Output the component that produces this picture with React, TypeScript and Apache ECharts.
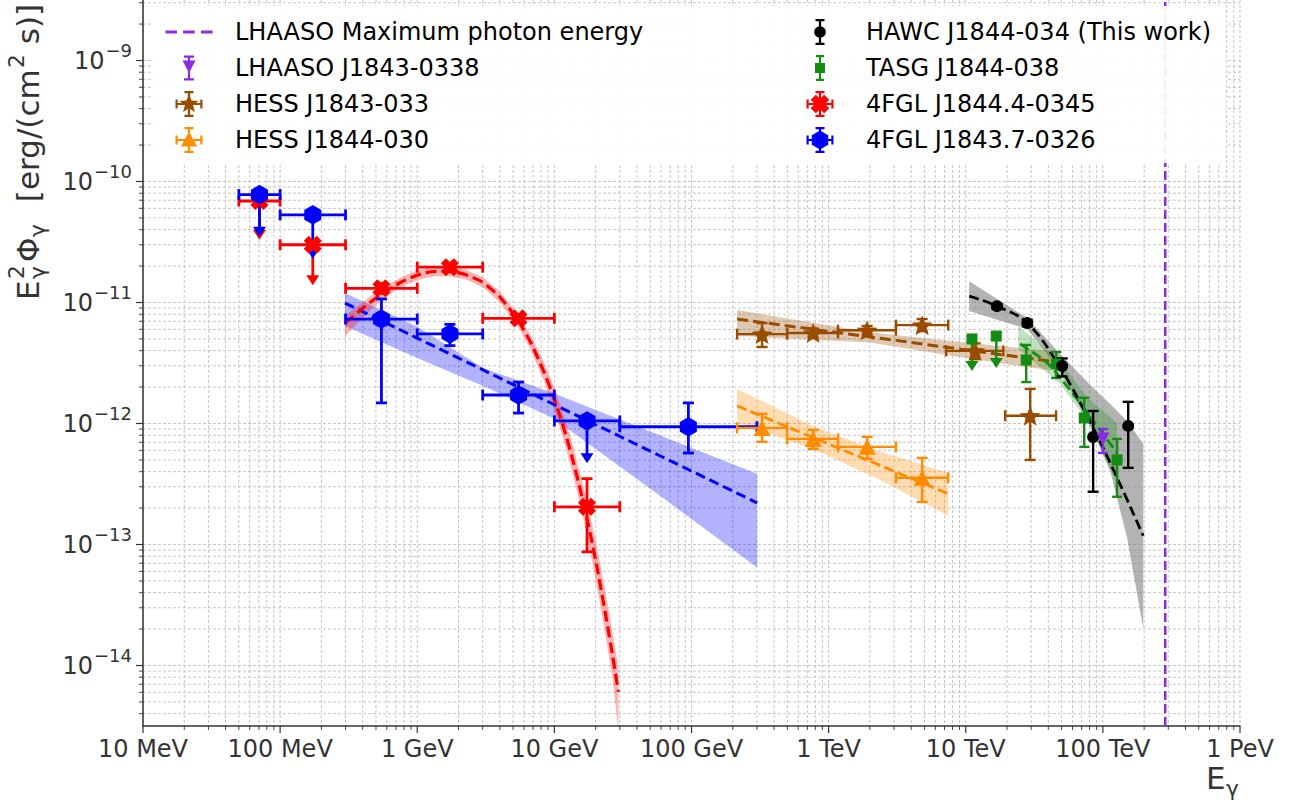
import React, { useEffect, useRef } from 'react';
import * as echarts from 'echarts';

const FONT = 'DejaVu Sans';
const L = (v: number) => Math.log10(v);

// ---------------- axes ----------------
const xMin = -2, xMax = 6, yMin = -14.5, yMax = -8.5;
const xTickEnergies = [0.01, 0.1, 1, 10, 100, 1e3, 1e4, 1e5, 1e6]; // GeV
const xTickLabels = ['10 MeV', '100 MeV', '1 GeV', '10 GeV', '100 GeV', '1 TeV', '10 TeV', '100 TeV', '1 PeV'];
const yTickExponents = [-14, -13, -12, -11, -10, -9];

// ---------------- data (E in GeV, E^2 dN/dE in erg cm^-2 s^-1) ----------------
// 4FGL J1843.7-0326 (blue)
const fglBinLo = [0.05, 0.1, 0.3, 1, 3, 10, 30];
const fglBinHi = [0.1, 0.3, 1, 3, 10, 30, 300];
const blueE = [0.0707, 0.173, 0.548, 1.73, 5.48, 17.3, 94.9];
const blueF = [7.8e-11, 5.3e-11, 7.3e-12, 5.5e-12, 1.72e-12, 1.05e-12, 9.4e-13];
const blueFHi = [null, null, 1.07e-11, 6.6e-12, 2.2e-12, null, 1.48e-12];
const blueFLo = [3.5e-11, 2.3e-11, 1.48e-12, 4.4e-12, 1.22e-12, 4.7e-13, 5.7e-13];
const blueUL = [true, true, false, false, false, true, false];
const blueModelE = [0.297, 1, 3.02, 9.77, 63.1, 301];
const blueModelF = [9.89e-12, 5.08e-12, 2.77e-12, 1.45e-12, 5.21e-13, 2.21e-13];
const blueBandHi = [1.197e-11, 6.31e-12, 2.88e-12, 1.786e-12, 7.74e-13, 3.84e-13];
const blueBandLo = [6.38e-12, 3.48e-12, 2.04e-12, 1.11e-12, 2.39e-13, 6.44e-14];

// 4FGL J1844.4-0345 (red)
const redE = [0.0707, 0.173, 0.548, 1.73, 5.48, 17.3];
const redF = [6.9e-11, 3.0e-11, 1.31e-11, 1.96e-11, 7.4e-12, 2.05e-13];
const redFHi = [null, null, 1.44e-11, 2.08e-11, 7.9e-12, 3.5e-13];
const redFLo = [3.3e-11, 1.39e-11, 1.19e-11, 1.85e-11, 6.9e-12, 8.7e-14];
const redUL = [true, true, false, false, false, false];
// model curve read in decades: log10(E/GeV), log10(flux)
const redModelLogE = [-0.527, -0.4, -0.264, -0.13, 0, 0.12, 0.232, 0.35, 0.473, 0.6, 0.735, 0.83, 0.918, 0.98, 1.042, 1.09, 1.138, 1.19, 1.236, 1.27, 1.309, 1.345, 1.382, 1.425, 1.467];
const redModelLogF = [-11.17, -11.049, -10.933, -10.839, -10.774, -10.744, -10.744, -10.768, -10.83, -10.951, -11.147, -11.337, -11.557, -11.737, -11.942, -12.12, -12.317, -12.551, -12.776, -12.956, -13.178, -13.398, -13.635, -13.923, -14.217];
const redBandLogHi = [-11.11, -11.0, -10.883, -10.799, -10.734, -10.704, -10.704, -10.728, -10.79, -10.906, -11.097, -11.277, -11.482, -11.647, -11.842, -12.01, -12.197, -12.421, -12.636, -12.806, -13.018, -13.228, -13.455, -13.733, -14.017];
const redBandLogLo = [-11.28, -11.129, -10.983, -10.879, -10.814, -10.784, -10.784, -10.808, -10.87, -10.996, -11.197, -11.397, -11.632, -11.827, -12.042, -12.23, -12.437, -12.681, -12.916, -13.106, -13.338, -13.568, -13.815, -14.113, -14.55];

// HESS J1843-033 (brown)
const hess33E = [327, 771, 1910, 4810, 11700, 29500];
const hess33ELo = [215, 498, 1170, 3100, 7200, 19400];
const hess33EHi = [498, 1170, 3100, 7450, 18800, 45600];
const hess33F = [5.48e-12, 5.6e-12, 5.9e-12, 6.5e-12, 3.98e-12, 1.16e-12];
const hess33FHi = [6.76e-12, 6.1e-12, 6.4e-12, 7.3e-12, 4.6e-12, 1.93e-12];
const hess33FLo = [4.29e-12, 5.15e-12, 5.45e-12, 5.8e-12, 3.4e-12, 5.0e-13];
const hess33ModelE = [215, 1995, 10000, 41300];
const hess33ModelF = [7.29e-12, 5.2e-12, 4.06e-12, 3.28e-12];
const hess33BandHi = [8.65e-12, 5.69e-12, 4.68e-12, 3.98e-12];
const hess33BandLo = [5.28e-12, 4.68e-12, 3.47e-12, 2.75e-12];

// HESS J1844-030 (orange)
const hess30E = [327, 771, 1910, 4810];
const hess30ELo = [215, 498, 1170, 3100];
const hess30EHi = [498, 1170, 3100, 7450];
const hess30F = [9.2e-13, 7.46e-13, 6.41e-13, 3.56e-13];
const hess30FHi = [1.2e-12, 8.85e-13, 7.76e-13, 5.2e-13];
const hess30FLo = [7.05e-13, 6.17e-13, 5.1e-13, 2.25e-13];
const hess30ModelE = [215, 800, 2500, 7450];
const hess30ModelF = [1.4e-12, 7.52e-13, 4.4e-13, 2.62e-13];
const hess30BandHi = [1.93e-12, 9.33e-13, 5.75e-13, 3.91e-13];
const hess30BandLo = [1.02e-12, 6.03e-13, 3.31e-13, 1.73e-13];

// TASG J1844-038 (green)
const tasgE = [11100, 16700, 27600, 45600, 73100, 127000];
const tasgF = [5.0e-12, 5.28e-12, 3.35e-12, 3.1e-12, 1.11e-12, 5.0e-13];
const tasgFHi = [null, null, 4.46e-12, 3.9e-12, 1.63e-12, 7.46e-13];
const tasgFLo = [2.72e-12, 2.88e-12, 2.2e-12, 2.38e-12, 6.4e-13, 2.48e-13];
const tasgUL = [true, true, false, false, false, false];
const tasgModelE = [24900, 39300, 60700, 84900, 127000];
const tasgModelF = [4.54e-12, 3.16e-12, 1.75e-12, 1.05e-12, 5.71e-13];
const tasgBandE = [24100, 48900, 76900, 127000];
const tasgBandHi = [6.38e-12, 3.29e-12, 1.63e-12, 1.01e-12];
const tasgBandLo = [4.17e-12, 2.12e-12, 1.05e-12, 3.18e-13];

// HAWC J1844-034 (black)
const hawcE = [16900, 28100, 50500, 84900, 153000];
const hawcF = [9.33e-12, 6.76e-12, 2.99e-12, 7.74e-13, 9.55e-13];
const hawcFHi = [9.7e-12, 7.2e-12, 3.45e-12, 1.27e-12, 1.51e-12];
const hawcFLo = [8.9e-12, 6.35e-12, 2.45e-12, 2.73e-13, 4.3e-13];
const hawcModelE = [10600, 16900, 28100, 48900, 84900, 127000, 197000];
const hawcModelF = [1.13e-11, 9.33e-12, 6.76e-12, 2.88e-12, 9.2e-13, 3.56e-13, 1.18e-13];
const hawcBandE = [10600, 28100, 48900, 84900, 113000, 150000, 197000];
const hawcBandHi = [1.5e-11, 7.43e-12, 3.75e-12, 1.97e-12, 1.45e-12, 1.05e-12, 6.79e-13];
const hawcBandLo = [8.49e-12, 6.03e-12, 2.72e-12, 8.69e-13, 4.06e-13, 1.14e-13, 2.02e-14];

// LHAASO J1843-0338 (purple)
const lhaasoE = [1.0e5];
const lhaasoF = [7.46e-13];
const lhaasoFHi = [9.0e-13];
const lhaasoFLo = [5.71e-13];
const lhaasoMaxPhotonE = [2.85e5];

// ---------------- colours ----------------
const C_BLUE = '#0000ff';
const C_RED = '#ff0000';
const C_BROWN = '#994c00';
const C_ORANGE = '#ff8c00';
const C_GREEN = '#148c14';
const C_BLACK = '#000000';
const C_PURPLE = '#8a2be2';

// ---------------- shape helpers ----------------
const f2 = (n: number) => n.toFixed(2);
function rectP(x: number, y: number, w: number, h: number) {
  return `M${f2(x)} ${f2(y)}L${f2(x + w)} ${f2(y)}L${f2(x + w)} ${f2(y + h)}L${f2(x)} ${f2(y + h)}Z`;
}
function polyP(pts: number[][]) {
  return 'M' + pts.map((p) => f2(p[0]) + ' ' + f2(p[1])).join('L') + 'Z';
}
function regPts(cx: number, cy: number, r: number, n: number, start: number) {
  const out: number[][] = [];
  for (let k = 0; k < n; k++) {
    const a = ((start + (k * 360) / n) * Math.PI) / 180;
    out.push([cx + r * Math.cos(a), cy + r * Math.sin(a)]);
  }
  return out;
}
function starPts(cx: number, cy: number, R: number, r: number) {
  const out: number[][] = [];
  for (let k = 0; k < 10; k++) {
    const a = ((-90 + k * 36) * Math.PI) / 180;
    const rr = k % 2 === 0 ? R : r;
    out.push([cx + rr * Math.cos(a), cy + rr * Math.sin(a)]);
  }
  return out;
}
function xPts(cx: number, cy: number, len: number, a: number) {
  const base = [[-a, -len], [a, -len], [a, -a], [len, -a], [len, a], [a, a], [a, len], [-a, len], [-a, a], [-len, a], [-len, -a], [-a, -a]];
  const c = Math.SQRT1_2;
  return base.map(([x, y]) => [cx + (x - y) * c, cy + (x + y) * c]);
}

const hexSymbol = 'path://' + polyP(regPts(0, 0, 10, 6, -90));
const xSymbol = 'path://' + polyP(xPts(0, 0, 10, 3.9));
const starSymbol = 'path://' + polyP(starPts(0, 0, 10, 4.3));

// legend icons (82 x 30 box)
const CX = 41, CY = 15;
const corners = 'M0 0L0.01 0L0.01 0.01ZM82 30L81.99 30L81.99 29.99Z';
const yErrIcon = (h: number, cap: number, lw: number) =>
  rectP(CX - lw / 2, CY - h, lw, 2 * h) + rectP(CX - cap, CY - h, 2 * cap, lw) + rectP(CX - cap, CY + h - lw, 2 * cap, lw);
const xErrIcon = (w: number, cap: number, lw: number) =>
  rectP(CX - w, CY - lw / 2, 2 * w, lw) + rectP(CX - w, CY - cap, lw, 2 * cap) + rectP(CX + w - lw, CY - cap, lw, 2 * cap);
const iconDash = 'path://' + corners + rectP(17.5, 13.4, 11.5, 3.2) + rectP(35.2, 13.4, 11.5, 3.2) + rectP(53, 13.4, 11.5, 3.2);
const iconLhaaso = 'path://' + corners + yErrIcon(12.5, 5, 2.2) + polyP([[34.5, 7.5], [47.5, 7.5], [41, 20]]);
const iconHess33 = 'path://' + corners + yErrIcon(13, 4.5, 2.2) + xErrIcon(13.5, 4.5, 2.2) + polyP(starPts(CX, CY, 10, 4.3));
const iconHess30 = 'path://' + corners + yErrIcon(13, 4.5, 2.2) + xErrIcon(13.5, 4.5, 2.2) + polyP([[33, 21.5], [41, 6.5], [49, 21.5]]);
const iconHawc = 'path://' + corners + yErrIcon(13, 4.5, 2.2) + polyP(regPts(CX, CY, 5.8, 24, 0));
const iconTasg = 'path://' + corners + yErrIcon(13, 4, 2.2) + rectP(CX - 5, CY - 5, 10, 10);
const iconRed = 'path://' + corners + yErrIcon(13, 4.5, 2.2) + xErrIcon(13.5, 4.5, 2.2) + polyP(xPts(CX, CY, 9.5, 3.6));
const iconBlue = 'path://' + corners + yErrIcon(13, 4.5, 2.2) + xErrIcon(13.5, 4.5, 2.2) + polyP(regPts(CX, CY, 9.5, 6, -90));

// ---------------- series builders ----------------
function errData(E: number[], ELo: number[] | null, EHi: number[] | null, F: number[], FHi: (number | null)[], FLo: number[], UL: boolean[] | null) {
  return E.map((e, i) => [
    L(e), L(F[i]),
    ELo ? L(ELo[i]) : NaN, EHi ? L(EHi[i]) : NaN,
    L(FLo[i]), FHi[i] == null ? NaN : L(FHi[i] as number),
    UL && UL[i] ? 1 : 0,
  ]);
}

function errSeries(name: string, color: string, data: number[][], lw: number, cap: number) {
  return {
    type: 'custom', name, z: 3, silent: true, clip: false,
    data, encode: { x: 0, y: 1 },
    renderItem: (_p: any, api: any) => {
      const x = api.value(0), y = api.value(1);
      const xl = api.value(2), xh = api.value(3), yl = api.value(4), yh = api.value(5), ul = api.value(6);
      const c = api.coord([x, y]);
      const st = { stroke: color, lineWidth: lw, fill: null };
      const ln = (x1: number, y1: number, x2: number, y2: number) => ({ type: 'line', shape: { x1, y1, x2, y2 }, style: st });
      const ch: any[] = [];
      if (isFinite(xl)) {
        const a = api.coord([xl, y]), b = api.coord([xh, y]);
        ch.push(ln(a[0], c[1], b[0], c[1]));
        ch.push(ln(a[0], c[1] - cap, a[0], c[1] + cap));
        ch.push(ln(b[0], c[1] - cap, b[0], c[1] + cap));
      }
      if (ul) {
        const b = api.coord([x, yl]);
        const hh = 10, hw = 6.5;
        ch.push(ln(c[0], c[1], c[0], b[1] - hh + 1));
        ch.push({ type: 'polygon', shape: { points: [[b[0] - hw, b[1] - hh], [b[0] + hw, b[1] - hh], [b[0], b[1]]] }, style: { fill: color } });
      } else {
        const t = api.coord([x, yh]), b = api.coord([x, yl]);
        ch.push(ln(c[0], t[1], c[0], b[1]));
        ch.push(ln(c[0] - cap, t[1], c[0] + cap, t[1]));
        ch.push(ln(c[0] - cap, b[1], c[0] + cap, b[1]));
      }
      return { type: 'group', children: ch };
    },
  };
}

function markerSeries(name: string, color: string, E: number[], F: number[], symbol: string, size: any, rotate = 0) {
  return {
    type: 'scatter', name, z: 4, silent: true,
    data: E.map((e, i) => [L(e), L(F[i])]),
    symbol, symbolSize: size, symbolRotate: rotate,
    itemStyle: { color, opacity: 1 },
  };
}

function lineSeries(name: string, color: string, pts: number[][], width: number, dash: number[], smooth: any) {
  return {
    type: 'line', name, z: 2, silent: true, clip: true,
    data: pts,
    showSymbol: false, symbol: 'none', smooth,
    lineStyle: { color, width, type: dash },
    itemStyle: { color },
  };
}
const toPts = (E: number[], F: number[]) => E.map((e, i) => [L(e), L(F[i])]);

function bandSeries(name: string, fill: string, xs: number[], his: number[], los: number[]) {
  return {
    type: 'custom', name, z: 1, silent: true, clip: true,
    data: [[xs[0], his[0]]],
    renderItem: (_p: any, api: any) => {
      const pts: number[][] = [];
      for (let i = 0; i < xs.length; i++) pts.push(api.coord([xs[i], his[i]]));
      for (let i = xs.length - 1; i >= 0; i--) pts.push(api.coord([xs[i], los[i]]));
      return { type: 'polygon', shape: { points: pts }, style: { fill } };
    },
  };
}
const bandFromPhys = (name: string, fill: string, E: number[], Hi: number[], Lo: number[]) =>
  bandSeries(name, fill, E.map(L), Hi.map(L), Lo.map(L));

// grid / tick positions (log-decade subdivisions)
const xMajor = xTickEnergies.map(L);
const yMajor = yTickExponents.slice();
const xMinorPos: number[] = [];
for (let d = -2; d < 6; d++) for (let k = 2; k <= 9; k++) xMinorPos.push(d + L(k));
const yMinorPos: number[] = [];
for (let d = -15; d < -8; d++) for (let k = 2; k <= 9; k++) { const v = d + L(k); if (v > yMin && v < yMax) yMinorPos.push(v); }

const gridColor = '#c6c6c6';
function gridXSeries() {
  return {
    type: 'custom', name: 'gridX', z: 0, silent: true, clip: false,
    data: [...xMajor, ...xMinorPos].map((v) => [v, yMin, xMajor.includes(v) ? 1 : 0]),
    renderItem: (params: any, api: any) => {
      const p = api.coord([api.value(0), yMin]);
      const cs = params.coordSys;
      const major = api.value(2) === 1;
      const bottom = cs.y + cs.height;
      return {
        type: 'group', children: [
          { type: 'line', shape: { x1: p[0], y1: cs.y, x2: p[0], y2: bottom }, style: { stroke: gridColor, lineWidth: 1, lineDash: [3, 2] } },
          { type: 'line', shape: { x1: p[0], y1: bottom, x2: p[0], y2: bottom + (major ? 7 : 4) }, style: { stroke: '#333', lineWidth: major ? 1.2 : 0.9 } },
        ],
      };
    },
  };
}
function gridYSeries() {
  return {
    type: 'custom', name: 'gridY', z: 0, silent: true, clip: false,
    data: [...yMajor, ...yMinorPos].map((v) => [xMin, v, yMajor.includes(v) ? 1 : 0]),
    renderItem: (params: any, api: any) => {
      const p = api.coord([xMin, api.value(1)]);
      const cs = params.coordSys;
      const major = api.value(2) === 1;
      return {
        type: 'group', children: [
          { type: 'line', shape: { x1: cs.x, y1: p[1], x2: cs.x + cs.width, y2: p[1] }, style: { stroke: gridColor, lineWidth: 1, lineDash: [3, 2] } },
          { type: 'line', shape: { x1: cs.x, y1: p[1], x2: cs.x - (major ? 7 : 4), y2: p[1] }, style: { stroke: '#333', lineWidth: major ? 1.2 : 0.9 } },
        ],
      };
    },
  };
}

function buildOption() {
  const txt = { fontFamily: FONT, color: '#000', fontSize: 24 };
  const ttl = (text: string, x: number, y: number, size: number) => ({
    type: 'text', x, y, style: { text, fontSize: size, fontFamily: FONT, fill: '#333', align: 'left', verticalAlign: 'middle' },
  });
  return {
    animation: false,
    backgroundColor: '#ffffff',
    tooltip: { show: false },
    grid: { left: 143, right: 54, top: 0, bottom: 79, containLabel: false, outerBoundsMode: 'none' },
    xAxis: {
      type: 'value', min: xMin, max: xMax,
      axisLine: { show: true, onZero: false, lineStyle: { color: '#333', width: 1.5 } },
      axisTick: { show: false },
      splitLine: { show: false },
      axisLabel: {
        customValues: xMajor,
        formatter: (v: number) => {
          const i = xMajor.findIndex((m) => Math.abs(m - v) < 1e-6);
          return i >= 0 ? xTickLabels[i] : '';
        },
        fontSize: 24, fontFamily: FONT, color: '#333', margin: 11,
      },
    },
    yAxis: {
      type: 'value', min: yMin, max: yMax,
      axisLine: { show: true, onZero: false, lineStyle: { color: '#333', width: 1.5 } },
      axisTick: { show: false },
      splitLine: { show: false },
      axisLabel: {
        customValues: yMajor,
        formatter: (v: number) => {
          const r = Math.round(v);
          if (Math.abs(r - v) > 1e-6) return '';
          return `{a|10}{b|\u2212${Math.abs(r)}}`;
        },
        margin: 11,
        rich: {
          a: { fontSize: 24, fontFamily: FONT, color: '#333' },
          b: { fontSize: 18, fontFamily: FONT, color: '#333', padding: [0, 0, 21, 1] },
        },
      },
    },
    legend: [
      {
        data: [
          { name: 'LHAASO Maximum photon energy', icon: iconDash },
          { name: 'LHAASO J1843-0338', icon: iconLhaaso },
          { name: 'HESS J1843-033', icon: iconHess33 },
          { name: 'HESS J1844-030', icon: iconHess30 },
        ],
        orient: 'vertical', left: 148, top: 17, itemWidth: 82, itemHeight: 30, itemGap: 6, padding: 0,
        textStyle: txt, itemStyle: { borderWidth: 0 }, selectedMode: false, z: 6,
      },
      {
        data: [
          { name: 'HAWC J1844-034 (This work)', icon: iconHawc },
          { name: 'TASG J1844-038', icon: iconTasg },
          { name: '4FGL J1844.4-0345', icon: iconRed },
          { name: '4FGL J1843.7-0326', icon: iconBlue },
        ],
        orient: 'vertical', left: 779, top: 17, itemWidth: 82, itemHeight: 30, itemGap: 6, padding: 0,
        textStyle: txt, itemStyle: { borderWidth: 0 }, selectedMode: false, z: 6,
      },
    ],
    graphic: [
      { type: 'rect', z: 5, shape: { x: 153, y: 6, width: 1073, height: 157, r: 4 }, style: { fill: 'rgba(255,255,255,0.92)' } },
      {
        type: 'group', x: 28, y: 300, rotation: Math.PI / 2,
        children: [
          ttl('E', 0, 0, 31),
          ttl('2', 21, -12, 21.7),
          ttl('\u03b3', 21, 9, 21.7),
          ttl('\u03a6', 38, 0, 31),
          ttl('\u03b3', 63, 9, 21.7),
          ttl(' [erg/(cm', 88, 0, 31),
          ttl('2', 232, -12, 21.7),
          ttl(' s)]', 246, 0, 31),
        ],
      },
      {
        type: 'group', x: 1206, y: 778,
        children: [ttl('E', 0, 0, 31), ttl('\u03b3', 20, 10, 21.7)],
      },
    ],
    series: [
      gridXSeries(),
      gridYSeries(),
      // bands
      bandFromPhys('4FGL J1843.7-0326 band', 'rgba(0,0,255,0.3)', blueModelE, blueBandHi, blueBandLo),
      bandSeries('4FGL J1844.4-0345 band', 'rgba(255,0,0,0.3)', redModelLogE, redBandLogHi, redBandLogLo),
      bandFromPhys('HESS J1843-033 band', 'rgba(153,76,0,0.3)', hess33ModelE, hess33BandHi, hess33BandLo),
      bandFromPhys('HESS J1844-030 band', 'rgba(255,140,0,0.3)', hess30ModelE, hess30BandHi, hess30BandLo),
      bandFromPhys('HAWC band', 'rgba(128,128,128,0.6)', hawcBandE, hawcBandHi, hawcBandLo),
      bandFromPhys('TASG band', 'rgba(0,140,0,0.25)', tasgBandE, tasgBandHi, tasgBandLo),
      // model lines
      lineSeries('4FGL J1843.7-0326 model', C_BLUE, toPts(blueModelE, blueModelF), 3, [10, 5], false),
      lineSeries('4FGL J1844.4-0345 model', C_RED, redModelLogE.map((x, i) => [x, redModelLogF[i]]), 3.2, [11, 5], 0.2),
      lineSeries('HESS J1843-033 model', C_BROWN, toPts(hess33ModelE, hess33ModelF), 3, [11, 5], false),
      lineSeries('HESS J1844-030 model', C_ORANGE, toPts(hess30ModelE, hess30ModelF), 2.8, [10, 4.5], false),
      lineSeries('TASG model', C_GREEN, toPts(tasgModelE, tasgModelF), 2.8, [10, 4.5], 0.3),
      lineSeries('HAWC model', C_BLACK, toPts(hawcModelE, hawcModelF), 2.8, [10, 4.5], 0.4),
      lineSeries('LHAASO Maximum photon energy', C_PURPLE,
        [[L(lhaasoMaxPhotonE[0]), yMin], [L(lhaasoMaxPhotonE[0]), yMax]], 2.5, [9, 4], false),
      // error bars + markers
      errSeries('4FGL J1844.4-0345 err', C_RED, errData(redE, fglBinLo, fglBinHi, redF, redFHi, redFLo, redUL), 2.8, 5.5),
      markerSeries('4FGL J1844.4-0345', C_RED, redE, redF, xSymbol, 18),
      errSeries('4FGL J1843.7-0326 err', C_BLUE, errData(blueE, fglBinLo, fglBinHi, blueF, blueFHi, blueFLo, blueUL), 2.8, 5.5),
      markerSeries('4FGL J1843.7-0326', C_BLUE, blueE, blueF, hexSymbol, [17, 19.5]),
      errSeries('HESS J1843-033 err', C_BROWN, errData(hess33E, hess33ELo, hess33EHi, hess33F, hess33FHi, hess33FLo, null), 2.4, 5.5),
      markerSeries('HESS J1843-033', C_BROWN, hess33E, hess33F, starSymbol, [21, 20]),
      errSeries('HESS J1844-030 err', C_ORANGE, errData(hess30E, hess30ELo, hess30EHi, hess30F, hess30FHi, hess30FLo, null), 2.4, 5.5),
      markerSeries('HESS J1844-030', C_ORANGE, hess30E, hess30F, 'triangle', [17, 16]),
      errSeries('TASG err', C_GREEN, errData(tasgE, null, null, tasgF, tasgFHi, tasgFLo, tasgUL), 2.4, 5),
      markerSeries('TASG J1844-038', C_GREEN, tasgE, tasgF, 'rect', 11),
      errSeries('HAWC err', C_BLACK, errData(hawcE, null, null, hawcF, hawcFHi, hawcFLo, null), 2.4, 5.5),
      markerSeries('HAWC J1844-034 (This work)', C_BLACK, hawcE, hawcF, 'circle', 12),
      errSeries('LHAASO err', C_PURPLE, errData(lhaasoE, null, null, lhaasoF, lhaasoFHi, lhaasoFLo, null), 2.4, 5),
      markerSeries('LHAASO J1843-0338', C_PURPLE, lhaasoE, lhaasoF, 'triangle', [13, 13], 180),
    ],
  };
}

export default function App() {
  const ref = useRef<HTMLDivElement>(null);
  useEffect(() => {
    document.body.style.margin = '0';
    document.documentElement.style.margin = '0';
    if (!ref.current) return;
    const chart = echarts.init(ref.current, null, { renderer: 'svg' });
    chart.setOption(buildOption() as any);
    return () => chart.dispose();
  }, []);
  return (
    <div
      ref={ref}
      style={{ position: 'absolute', left: 0, top: 0, width: 1294, height: 805, background: '#ffffff' }}
    />
  );
}
